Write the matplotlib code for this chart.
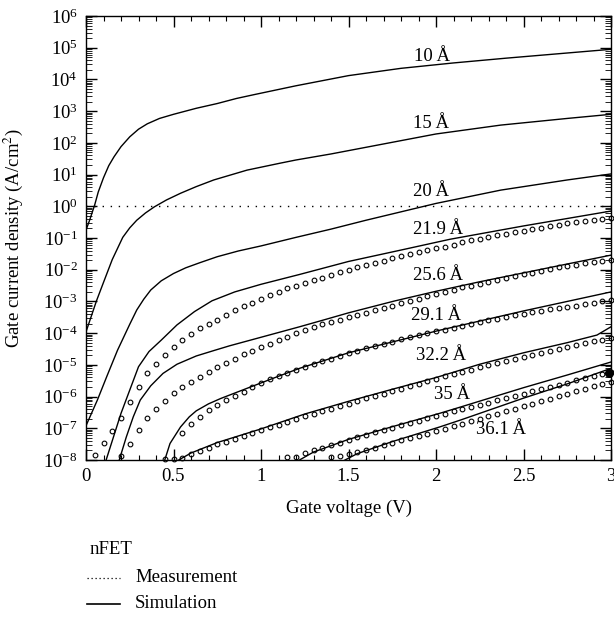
import numpy as np
import matplotlib
matplotlib.use("Agg")
import matplotlib.pyplot as plt
from matplotlib.ticker import LogLocator, MultipleLocator, FormatStrFormatter, NullFormatter
from matplotlib.lines import Line2D

plt.rcParams['font.family'] = ['Liberation Serif', 'DejaVu Serif']
plt.rcParams['mathtext.fontset'] = 'stix'
plt.rcParams['font.size'] = 13.5

nan = np.nan

############# Data (log10 of gate current density, A/cm^2) #############

# simulation curves
v_sim_10 = [0, 0.02, 0.05, 0.07, 0.1, 0.13, 0.16, 0.2, 0.25, 0.3, 0.35, 0.42, 0.5, 0.63, 0.75, 0.86, 0.96, 1.2, 1.5, 1.8, 2.1, 2.4, 2.7, 3.0]
j_sim_10 = [-0.75, -0.45, 0.05, 0.45, 0.90, 1.28, 1.56, 1.88, 2.19, 2.43, 2.60, 2.77, 2.90, 3.09, 3.24, 3.40, 3.52, 3.80, 4.12, 4.35, 4.52, 4.67, 4.81, 4.95]

v_sim_15 = [0, 0.03, 0.06, 0.1, 0.15, 0.21, 0.25, 0.29, 0.34, 0.39, 0.46, 0.54, 0.63, 0.73, 0.92, 1.11, 1.2, 1.4, 1.6, 2.0, 2.37, 2.75, 3.0]
j_sim_15 = [-3.96, -3.47, -2.98, -2.40, -1.68, -0.98, -0.68, -0.44, -0.21, -0.02, 0.20, 0.41, 0.62, 0.83, 1.14, 1.36, 1.46, 1.65, 1.86, 2.28, 2.56, 2.77, 2.90]

v_sim_20 = [0, 0.065, 0.12, 0.18, 0.25, 0.29, 0.33, 0.37, 0.43, 0.5, 0.57, 0.65, 0.75, 0.87, 1.0, 1.2, 1.4, 1.6, 2.0, 2.37, 2.75, 3.0]
j_sim_20 = [-6.92, -6.11, -5.35, -4.54, -3.72, -3.27, -2.93, -2.64, -2.35, -2.12, -1.94, -1.78, -1.59, -1.41, -1.25, -0.98, -0.72, -0.44, 0.09, 0.51, 0.83, 1.02]

v_sim_219 = [0.115, 0.2, 0.3, 0.36, 0.43, 0.52, 0.62, 0.72, 0.85, 1.0, 1.22, 1.5, 1.8, 2.08, 2.5, 3.0]
j_sim_219 = [-8.0, -6.53, -5.06, -4.58, -4.22, -3.74, -3.32, -2.98, -2.70, -2.46, -2.15, -1.74, -1.38, -1.04, -0.62, -0.15]

v_sim_256 = [0.19, 0.23, 0.27, 0.31, 0.37, 0.44, 0.52, 0.63, 0.73, 0.82, 1.0, 1.22, 1.38, 1.5, 1.76, 2.0, 2.25, 2.5, 2.75, 3.0]
j_sim_256 = [-8.0, -7.28, -6.64, -6.11, -5.66, -5.27, -4.98, -4.72, -4.55, -4.40, -4.13, -3.80, -3.55, -3.36, -2.99, -2.68, -2.38, -2.10, -1.82, -1.54]

v_sim_291 = [0.45, 0.48, 0.54, 0.59, 0.63, 0.7, 0.77, 0.92, 1.09, 1.22, 1.5, 2.02, 2.5, 3.0]
j_sim_291 = [-8.0, -7.48, -6.96, -6.64, -6.45, -6.23, -6.06, -5.74, -5.38, -5.11, -4.62, -3.91, -3.30, -2.70]

v_sim_322 = [0.53, 0.6, 0.75, 1.0, 1.25, 1.5, 1.75, 2.0, 2.25, 2.5, 2.75, 2.92, 3.0]
j_sim_322 = [-8.0, -7.78, -7.45, -7.02, -6.55, -6.15, -5.77, -5.40, -4.98, -4.62, -4.30, -4.06, -3.80]

v_sim_35 = [1.22, 1.3, 1.5, 1.75, 2.02, 2.14, 2.5, 2.75, 3.0]
j_sim_35 = [-8.0, -7.75, -7.35, -6.95, -6.53, -6.33, -5.72, -5.32, -4.91]

v_sim_361 = [1.48, 1.55, 1.75, 2.02, 2.14, 2.5, 2.75, 3.0]
j_sim_361 = [-8.0, -7.80, -7.42, -6.96, -6.74, -6.05, -5.60, -5.11]

# measurement sweep (V)
v_meas = [0.05, 0.10, 0.15, 0.20, 0.25, 0.30, 0.35, 0.40, 0.45, 0.50,
          0.55, 0.60, 0.65, 0.70, 0.75, 0.80, 0.85, 0.90, 0.95, 1.00,
          1.05, 1.10, 1.15, 1.20, 1.25, 1.30, 1.35, 1.40, 1.45, 1.50,
          1.55, 1.60, 1.65, 1.70, 1.75, 1.80, 1.85, 1.90, 1.95, 2.00,
          2.05, 2.10, 2.15, 2.20, 2.25, 2.30, 2.35, 2.40, 2.45, 2.50,
          2.55, 2.60, 2.65, 2.70, 2.75, 2.80, 2.85, 2.90, 2.95, 3.00]

j_meas_219 = [-7.83, -7.46, -7.08, -6.66, -6.17, -5.69, -5.27, -4.98, -4.69, -4.45,
              -4.22, -4.03, -3.85, -3.70, -3.57, -3.42, -3.27, -3.15, -3.04, -2.92,
              -2.80, -2.70, -2.59, -2.50, -2.41, -2.33, -2.25, -2.16, -2.08, -2.00,
              -1.92, -1.85, -1.78, -1.71, -1.64, -1.57, -1.51, -1.45, -1.39, -1.33,
              -1.27, -1.21, -1.14, -1.07, -1.02, -0.97, -0.92, -0.87, -0.82, -0.77,
              -0.72, -0.67, -0.62, -0.58, -0.54, -0.50, -0.47, -0.43, -0.40, -0.36]

j_meas_256 = [nan, nan, nan, -7.88, -7.50, -7.04, -6.69, -6.39, -6.14, -5.90,
              -5.71, -5.53, -5.38, -5.22, -5.08, -4.94, -4.80, -4.67, -4.55, -4.44,
              -4.33, -4.22, -4.12, -4.01, -3.90, -3.80, -3.72, -3.64, -3.57, -3.50,
              -3.42, -3.35, -3.27, -3.20, -3.13, -3.06, -2.98, -2.91, -2.84, -2.77,
              -2.70, -2.63, -2.56, -2.50, -2.44, -2.38, -2.31, -2.25, -2.19, -2.14,
              -2.09, -2.03, -1.98, -1.93, -1.88, -1.84, -1.80, -1.76, -1.73, -1.70]

j_meas_291 = [nan, nan, nan, nan, nan, nan, nan, nan, nan, nan,
              -7.14, -6.87, -6.65, -6.43, -6.27, -6.12, -5.98, -5.85, -5.70, -5.57,
              -5.45, -5.35, -5.25, -5.15, -5.07, -4.98, -4.89, -4.81, -4.72, -4.64,
              -4.56, -4.48, -4.41, -4.34, -4.27, -4.20, -4.13, -4.07, -4.00, -3.94,
              -3.89, -3.84, -3.78, -3.72, -3.66, -3.60, -3.54, -3.49, -3.44, -3.39,
              -3.34, -3.30, -3.25, -3.21, -3.17, -3.13, -3.09, -3.05, -3.00, -2.95]

j_meas_322 = [nan, nan, nan, nan, nan, nan, nan, nan, -7.98, -7.98,
              -7.95, -7.82, -7.71, -7.61, -7.51, -7.43, -7.34, -7.25, -7.15, -7.06,
              -6.97, -6.89, -6.80, -6.71, -6.62, -6.54, -6.46, -6.38, -6.30, -6.22,
              -6.14, -6.06, -5.98, -5.91, -5.83, -5.76, -5.68, -5.60, -5.52, -5.44,
              -5.36, -5.29, -5.22, -5.15, -5.08, -5.01, -4.94, -4.87, -4.81, -4.74,
              -4.68, -4.62, -4.56, -4.50, -4.44, -4.38, -4.32, -4.26, -4.21, -4.16]

j_meas_35 = [nan, nan, nan, nan, nan, nan, nan, nan, nan, nan,
             nan, nan, nan, nan, nan, nan, nan, nan, nan, nan,
             nan, nan, -7.91, -7.91, -7.77, -7.70, -7.62, -7.54, -7.45, -7.37,
             -7.29, -7.21, -7.13, -7.06, -6.99, -6.91, -6.84, -6.76, -6.68, -6.61,
             -6.54, -6.47, -6.40, -6.33, -6.26, -6.19, -6.12, -6.05, -5.98, -5.91,
             -5.84, -5.77, -5.70, -5.63, -5.56, -5.49, -5.42, -5.35, -5.28, -5.21]

j_meas_361 = [nan, nan, nan, nan, nan, nan, nan, nan, nan, nan,
              nan, nan, nan, nan, nan, nan, nan, nan, nan, nan,
              nan, nan, nan, nan, nan, nan, nan, -7.91, -7.88, -7.82,
              -7.74, -7.69, -7.62, -7.54, -7.45, -7.38, -7.31, -7.24, -7.17, -7.10,
              -7.03, -6.94, -6.86, -6.78, -6.70, -6.62, -6.54, -6.46, -6.38, -6.30,
              -6.22, -6.15, -6.07, -5.99, -5.92, -5.84, -5.76, -5.68, -5.60, -5.53]

# dark blob where the thick curves meet at 3 V
v_blob = [2.99]
j_blob = [-5.25]

# thickness labels and where they sit (V, log10 J)
thick_labels = ['10', '15', '20', '21.9', '25.6', '29.1', '32.2', '35', '36.1']
label_v = [1.98, 1.97, 1.97, 2.01, 2.01, 2.00, 2.03, 2.09, 2.37]
label_j = [4.71, 2.62, 0.48, -0.72, -2.17, -3.43, -4.69, -5.92, -7.03]

sims_v = [v_sim_10, v_sim_15, v_sim_20, v_sim_219, v_sim_256, v_sim_291, v_sim_322, v_sim_35, v_sim_361]
sims_j = [j_sim_10, j_sim_15, j_sim_20, j_sim_219, j_sim_256, j_sim_291, j_sim_322, j_sim_35, j_sim_361]
meas_j = [j_meas_219, j_meas_256, j_meas_291, j_meas_322, j_meas_35, j_meas_361]

#################### Plot ###################################################
W, H = 614, 618
fig = plt.figure(figsize=(W / 100, H / 100), dpi=100)
ax = fig.add_axes([86 / W, 1 - 460 / H, (611 - 86) / W, (460 - 16) / H])

for v, lj in zip(sims_v, sims_j):
    ax.plot(v, 10.0 ** np.array(lj), color='k', lw=1.0)

for lj in meas_j:
    ax.plot(v_meas, 10.0 ** np.array(lj), ls='none', marker='o', ms=3.4,
            mfc='none', mec='k', mew=0.8, clip_on=False)

ax.plot(v_blob, 10.0 ** np.array(j_blob), ls='none', marker='o', ms=5.5,
        color='k', clip_on=False)

ax.axhline(1.0, color='k', lw=1.0, ls=(0, (1, 4.8)))

for t, x, y in zip(thick_labels, label_v, label_j):
    ax.text(x, 10.0 ** y, t + '\u2009\u00c5', ha='center', va='center')

ax.set_yscale('log')
ax.set_xlim(0, 3)
ax.set_ylim(1e-8, 1e6)

ax.xaxis.set_major_locator(MultipleLocator(0.5))
ax.xaxis.set_minor_locator(MultipleLocator(0.1))
ax.xaxis.set_major_formatter(FormatStrFormatter('%g'))
ax.yaxis.set_major_locator(LogLocator(base=10, numticks=30))
ax.yaxis.set_minor_locator(LogLocator(base=10, subs=np.arange(2, 10), numticks=100))
ax.yaxis.set_minor_formatter(NullFormatter())

ax.tick_params(which='both', direction='in', top=True, right=True)
ax.tick_params(which='major', length=7.7, width=1.0, pad=6)
ax.tick_params(axis='x', which='minor', length=3.4, width=0.8)
ax.tick_params(axis='y', which='minor', length=4.6, width=0.6)
for s in ax.spines.values():
    s.set_linewidth(1.0)

ax.set_xlabel('Gate voltage (V)', labelpad=10)
ax.set_ylabel('Gate current density (A/cm$^2$)', labelpad=13)

# legend block under the plot
fig.text(90 / W, 1 - 550 / H, 'nFET', ha='left', va='center')
fig.add_artist(Line2D([87 / W, 120 / W], [1 - 578 / H] * 2, transform=fig.transFigure,
                      color='k', lw=0.9, ls=(0, (1, 2.2))))
fig.text(135 / W, 1 - 578 / H, 'Measurement', ha='left', va='center')
fig.add_artist(Line2D([87 / W, 120 / W], [1 - 604 / H] * 2, transform=fig.transFigure,
                      color='k', lw=1.2))
fig.text(135 / W, 1 - 604 / H, 'Simulation', ha='left', va='center')

fig.savefig('out.png', dpi=100)
